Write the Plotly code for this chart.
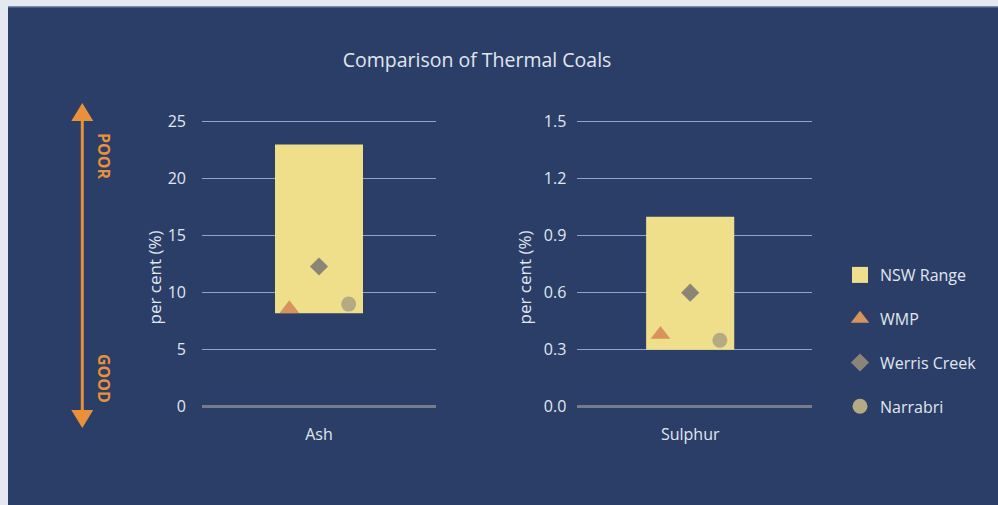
import plotly.graph_objects as go

# ---- data ----
cat_left = ["Ash"]
cat_right = ["Sulphur"]
nsw_low = [8.2, 0.3]
nsw_high = [23.0, 1.0]
wmp = [8.6, 0.38]
werris = [12.3, 0.6]
narrabri = [9.0, 0.35]
left_ticks = [0, 5, 10, 15, 20, 25]
right_ticks = [0.0, 0.3, 0.6, 0.9, 1.2, 1.5]

W, H = 998, 505
def px(x):
    return x / W
def py(y):
    return (H - y) / H

NAVY = "#2a3e68"
LIGHT = "#e4e9f1"
YELLOW = "#f0df8a"
TRI = "#d7925d"
DIA = "#8b8577"
CIR = "#b4aa83"
ORANGE = "#e8913a"
GRID = "#93a3c8"
ZERO = "#777b89"
TXT = "#e2e6ef"
FONT = "Open Sans"

fig = go.Figure()

# legend-only square for NSW Range (on hidden axes)
fig.add_trace(go.Scatter(x=[None], y=[None], mode="markers", name="NSW Range",
                         legendgroup="nsw", xaxis="x3", yaxis="y3",
                         marker=dict(symbol="square", size=16, color=YELLOW)))

series = [("WMP", wmp, "triangle-up", 17, TRI),
          ("Werris Creek", werris, "diamond", 14, DIA),
          ("Narrabri", narrabri, "circle", 15, CIR)]

for i, (cats, xa, ya) in enumerate([(cat_left, "x", "y"), (cat_right, "x2", "y2")]):
    fig.add_trace(go.Bar(x=cats, y=[nsw_high[i] - nsw_low[i]], base=[nsw_low[i]],
                         width=0.376, marker=dict(color=YELLOW, line=dict(width=0)),
                         name="NSW Range", legendgroup="nsw", showlegend=False,
                         xaxis=xa, yaxis=ya, hoverinfo="skip"))
    for name, vals, sym, size, col in series:
        fig.add_trace(go.Scatter(x=cats, y=[vals[i]], mode="markers", name=name,
                                 legendgroup=name, showlegend=(i == 0),
                                 marker=dict(symbol=sym, size=size, color=col),
                                 xaxis=xa, yaxis=ya))

ydom = [py(418.1), py(110.3)]
common_y = dict(showgrid=True, gridcolor=GRID, gridwidth=1, zeroline=True,
                zerolinecolor=ZERO, zerolinewidth=3, showline=False, ticks="",
                tickfont=dict(family=FONT, size=16, color=TXT), domain=ydom)
common_x = dict(showgrid=False, zeroline=False, showline=False, ticks="",
                tickfont=dict(family=FONT, size=16, color=TXT), type="category",
                ticklabelstandoff=5)

fig.update_layout(
    width=W, height=H,
    paper_bgcolor=NAVY, plot_bgcolor=NAVY,
    margin=dict(l=0, r=0, t=0, b=0, autoexpand=False),
    showlegend=True,
    scattermode="group", scattergap=0.62,
    title=dict(text="Comparison of Thermal Coals", x=px(477), xanchor="center",
               y=py(60), yanchor="middle",
               font=dict(family=FONT, size=19.5, color=TXT)),
    xaxis=dict(domain=[px(202), px(436)], range=[-0.5, 0.5], anchor="y", **common_x),
    xaxis2=dict(domain=[px(577.3), px(811.7)], range=[-0.4816, 0.5184], anchor="y2", **common_x),
    yaxis=dict(range=[-1, 26], tickvals=left_ticks, anchor="x",
               ticklabelstandoff=15, **common_y),
    yaxis2=dict(range=[-0.06, 1.56], tickvals=right_ticks, tickformat=".1f", anchor="x2",
                ticklabelstandoff=10, **common_y),
    xaxis3=dict(domain=[0, 0.001], visible=False, anchor="y3"),
    yaxis3=dict(domain=[0, 0.001], visible=False, anchor="x3"),
    legend=dict(x=px(840), y=py(258), xanchor="left", yanchor="top",
                bgcolor="rgba(0,0,0,0)", traceorder="grouped", tracegroupgap=20,
                font=dict(family=FONT, size=16, color=TXT)),
    hovermode=False,
)

# light frame strips
fig.add_shape(type="rect", xref="paper", yref="paper", x0=px(0), x1=px(8), y0=py(505), y1=py(0),
              fillcolor=LIGHT, line=dict(width=0), layer="below")
fig.add_shape(type="rect", xref="paper", yref="paper", x0=px(0), x1=px(998), y0=py(6.5), y1=py(0),
              fillcolor=LIGHT, line=dict(width=0), layer="below")
fig.add_shape(type="line", xref="paper", yref="paper", x0=px(8), x1=px(998), y0=py(7), y1=py(7),
              line=dict(color="#6c80aa", width=1))

# POOR / GOOD arrow
ax_x = 82.3
fig.add_shape(type="line", xref="paper", yref="paper", x0=px(ax_x), x1=px(ax_x),
              y0=py(118), y1=py(413), line=dict(color=ORANGE, width=3))
fig.add_shape(type="path", xref="paper", yref="paper",
              path=f"M {px(ax_x-11)},{py(121)} L {px(ax_x)},{py(103)} L {px(ax_x+11)},{py(121)} Z",
              fillcolor=ORANGE, line=dict(width=0))
fig.add_shape(type="path", xref="paper", yref="paper",
              path=f"M {px(ax_x-11)},{py(410)} L {px(ax_x)},{py(428)} L {px(ax_x+11)},{py(410)} Z",
              fillcolor=ORANGE, line=dict(width=0))
fig.add_annotation(text="<b>POOR</b>", x=px(104), y=py(156), xref="paper", yref="paper",
                   xanchor="center", yanchor="middle",
                   textangle=90, showarrow=False,
                   font=dict(family=FONT, size=16, color=ORANGE))
fig.add_annotation(text="<b>GOOD</b>", x=px(104), y=py(378), xref="paper", yref="paper",
                   xanchor="center", yanchor="middle",
                   textangle=90, showarrow=False,
                   font=dict(family=FONT, size=16, color=ORANGE))

# y-axis titles
for xx in (154, 524):
    fig.add_annotation(text="per cent (%)", x=px(xx), y=py(277.5), xref="paper", yref="paper",
                       xanchor="center", yanchor="middle",
                       textangle=-90, showarrow=False,
                       font=dict(family=FONT, size=17, color=TXT))

fig.write_html("out.html",
               config={"displayModeBar": False},
               post_script="document.body.style.margin='0';document.body.style.overflow='hidden';")
